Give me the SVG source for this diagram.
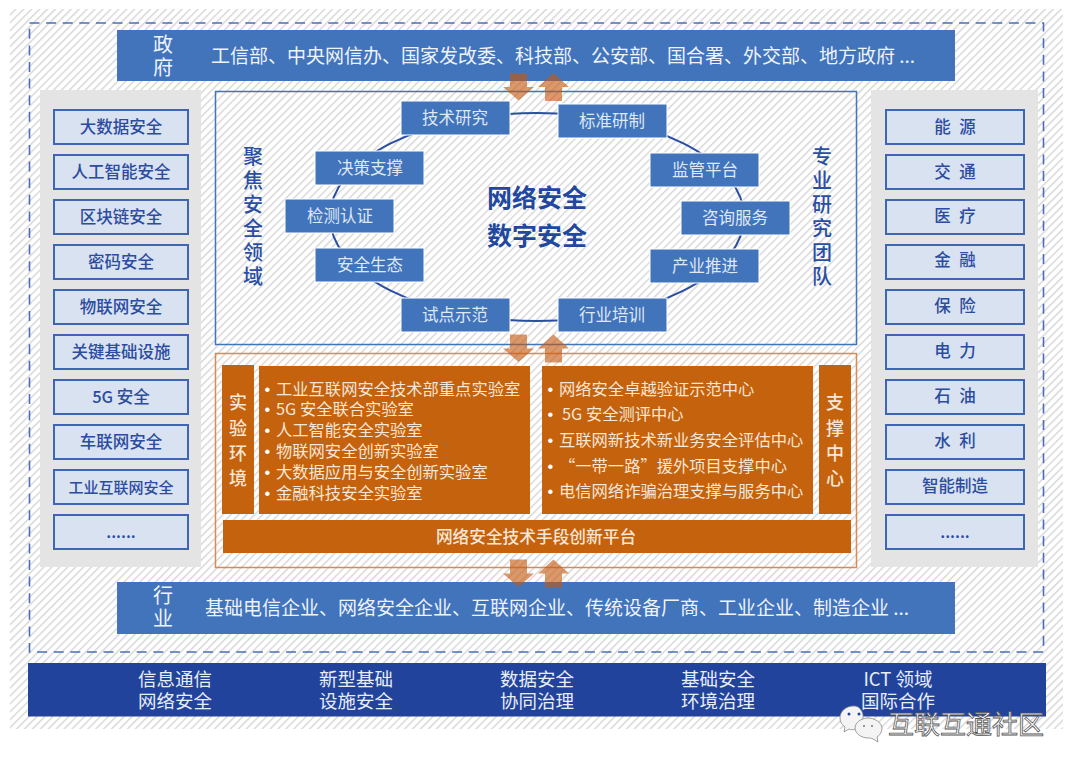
<svg xmlns="http://www.w3.org/2000/svg" width="1080" height="772" viewBox="0 0 1080 772">
<style>
text{font-family:"Noto Sans CJK SC","Noto Sans",sans-serif;text-anchor:middle}
.bar{fill:#4274bc}
.t{font-size:19px;fill:#eef3fa}
.tv{font-size:20px;fill:#eef3fa}
.node{fill:#4274bc;stroke:#fff;stroke-width:1}
.nt{font-size:16.500px;fill:#dfe8f4}
.side{fill:#d9e2f0;stroke:#3f66b4;stroke-width:2}
.st{font-size:16.500px;fill:#2b4c9f;font-weight:500}
.sp{word-spacing:5px}
.v{font-size:20px;fill:#2a4ea3;font-weight:500}
.o{fill:#c4620e}
.ot{font-size:16.300px;fill:#f8e6d6;text-anchor:start}
.b{font-family:"Liberation Sans",sans-serif;font-size:16.300px;fill:#fff;text-anchor:start}
.ov{font-size:18px;fill:#f8e6d6;font-weight:500}
.dk{font-size:18.500px;fill:#e8eef8}
.arr{fill:#c55a11;opacity:.62}
</style>
<defs>
<pattern id="h" width="5.600" height="5.600" patternUnits="userSpaceOnUse" patternTransform="rotate(45)"><rect width="5.600" height="5.600" fill="#fff"/><rect width="1.500" height="5.600" fill="#d8d8d8"/></pattern>
<path id="dn" d="M-8.500 0H8.500V14H15.500L0 27.500L-15.500 14H-8.500Z"/>
<path id="up" d="M-8.500 28H8.500V14H15.500L0 0L-15.500 14H-8.500Z"/>
</defs>
<rect x="10" y="9" width="1053" height="720" fill="url(#h)"/>
<rect x="29.500" y="23" width="1014" height="629" fill="none" stroke="#4a6fb8" stroke-width="1.600" stroke-dasharray="10 6.600"/>
<g id="gov"><rect class="bar" x="117" y="30" width="838" height="51"/>
<text class="tv" x="163"><tspan x="163" y="52">政</tspan><tspan x="163" y="75">府</tspan></text>
<text class="t" x="563" y="63">工信部、中央网信办、国家发改委、科技部、公安部、国合署、外交部、地方政府 ...</text></g>
<g id="industry"><rect class="bar" x="117" y="582" width="838" height="52"/>
<text class="tv"><tspan x="163" y="603">行</tspan><tspan x="163" y="626">业</tspan></text>
<text class="t" x="557" y="615">基础电信企业、网络安全企业、互联网企业、传统设备厂商、工业企业、制造企业 ...</text></g>
<g id="left-panel"><rect x="40" y="90" width="161" height="477" fill="#e4e4e4"/>
<rect class="side" x="54" y="110" width="134" height="34"/><text class="st" x="121" y="133">大数据安全</text>
<rect class="side" x="54" y="155" width="134" height="34"/><text class="st" x="121" y="178">人工智能安全</text>
<rect class="side" x="54" y="200" width="134" height="34"/><text class="st" x="121" y="223">区块链安全</text>
<rect class="side" x="54" y="245" width="134" height="34"/><text class="st" x="121" y="268">密码安全</text>
<rect class="side" x="54" y="290" width="134" height="34"/><text class="st" x="121" y="313">物联网安全</text>
<rect class="side" x="54" y="335" width="134" height="34"/><text class="st" x="121" y="358">关键基础设施</text>
<rect class="side" x="54" y="380" width="134" height="34"/><text class="st" x="121" y="403">5G 安全</text>
<rect class="side" x="54" y="425" width="134" height="34"/><text class="st" x="121" y="448">车联网安全</text>
<rect class="side" x="54" y="470" width="134" height="34"/><text class="st" x="121" y="493" style="font-size:15px">工业互联网安全</text>
<rect class="side" x="54" y="515" width="134" height="34"/><text class="st" x="121" y="538">......</text></g>
<g id="right-panel"><rect x="871" y="90" width="167" height="477" fill="#e4e4e4"/>
<rect class="side" x="886" y="110" width="138" height="34"/><text class="st sp" x="955" y="133">能 源</text>
<rect class="side" x="886" y="155" width="138" height="34"/><text class="st sp" x="955" y="178">交 通</text>
<rect class="side" x="886" y="200" width="138" height="34"/><text class="st sp" x="955" y="222">医 疗</text>
<rect class="side" x="886" y="245" width="138" height="34"/><text class="st sp" x="955" y="266">金 融</text>
<rect class="side" x="886" y="290" width="138" height="34"/><text class="st sp" x="955" y="312">保 险</text>
<rect class="side" x="886" y="335" width="138" height="34"/><text class="st sp" x="955" y="357">电 力</text>
<rect class="side" x="886" y="380" width="138" height="34"/><text class="st sp" x="955" y="402">石 油</text>
<rect class="side" x="886" y="425" width="138" height="34"/><text class="st sp" x="955" y="447">水 利</text>
<rect class="side" x="886" y="470" width="138" height="34"/><text class="st" x="955" y="492">智能制造</text>
<rect class="side" x="886" y="515" width="138" height="34"/><text class="st" x="955" y="538">......</text></g>
<g id="center"><rect x="215.500" y="91.500" width="641" height="253" fill="none" stroke="#4274bc" stroke-width="1.500"/>
<text class="v"><tspan x="253" y="164">聚</tspan><tspan x="253" y="188">焦</tspan><tspan x="253" y="212">安</tspan><tspan x="253" y="236">全</tspan><tspan x="253" y="260">领</tspan><tspan x="253" y="284">域</tspan></text>
<text class="v"><tspan x="822" y="164">专</tspan><tspan x="822" y="188">业</tspan><tspan x="822" y="212">研</tspan><tspan x="822" y="236">究</tspan><tspan x="822" y="260">团</tspan><tspan x="822" y="284">队</tspan></text>
<text font-size="25" font-weight="700" fill="#22479f"><tspan x="537" y="207">网络安全</tspan><tspan x="537" y="245">数字安全</tspan></text></g>
<g id="connectors"><ellipse cx="537" cy="217" rx="207" ry="104" fill="none" stroke="#2a4ea3" stroke-width="2"/></g>
<g id="n1"><rect class="node" x="401" y="101" width="109" height="34"/><text class="nt" x="455" y="124">技术研究</text></g>
<g id="n2"><rect class="node" x="558" y="104" width="109" height="34"/><text class="nt" x="612" y="127">标准研制</text></g>
<g id="n3"><rect class="node" x="315" y="151" width="109" height="34"/><text class="nt" x="370" y="174">决策支撑</text></g>
<g id="n4"><rect class="node" x="650" y="153" width="109" height="34"/><text class="nt" x="705" y="176">监管平台</text></g>
<g id="n5"><rect class="node" x="285" y="199" width="109" height="34"/><text class="nt" x="340" y="222">检测认证</text></g>
<g id="n6"><rect class="node" x="681" y="201" width="109" height="34"/><text class="nt" x="735" y="224">咨询服务</text></g>
<g id="n7"><rect class="node" x="315" y="248" width="109" height="34"/><text class="nt" x="370" y="271">安全生态</text></g>
<g id="n8"><rect class="node" x="650" y="249" width="109" height="34"/><text class="nt" x="705" y="272">产业推进</text></g>
<g id="n9"><rect class="node" x="401" y="298" width="109" height="34"/><text class="nt" x="455" y="321">试点示范</text></g>
<g id="n10"><rect class="node" x="558" y="298" width="109" height="34"/><text class="nt" x="612" y="321">行业培训</text></g>
<g id="lab"><rect x="215.500" y="353.500" width="641" height="214" fill="none" stroke="#d98a50" stroke-width="1.500"/>
<rect class="o" x="222" y="365" width="32" height="149"/>
<text class="ov"><tspan x="238" y="409">实</tspan><tspan x="238" y="435">验</tspan><tspan x="238" y="460">环</tspan><tspan x="238" y="485">境</tspan></text>
<rect class="o" x="259" y="366" width="271" height="148"/>
<text class="b" x="264.500" y="395">•</text><text class="ot" x="276" y="395">工业互联网安全技术部重点实验室</text>
<text class="b" x="264.500" y="415">•</text><text class="ot" x="276" y="415">5G 安全联合实验室</text>
<text class="b" x="264.500" y="436">•</text><text class="ot" x="276" y="436">人工智能安全实验室</text>
<text class="b" x="264.500" y="457">•</text><text class="ot" x="276" y="457">物联网安全创新实验室</text>
<text class="b" x="264.500" y="478">•</text><text class="ot" x="276" y="478">大数据应用与安全创新实验室</text>
<text class="b" x="264.500" y="499">•</text><text class="ot" x="276" y="499">金融科技安全实验室</text></g>
<g id="support"><rect class="o" x="542" y="366" width="271" height="148"/>
<text class="b" x="547.500" y="395">•</text><text class="ot" x="559" y="395">网络安全卓越验证示范中心</text>
<text class="b" x="547.500" y="420">•</text><text class="ot" x="562" y="420">5G 安全测评中心</text>
<text class="b" x="547.500" y="446">•</text><text class="ot" x="559" y="446">互联网新技术新业务安全评估中心</text>
<text class="b" x="547.500" y="472">•</text><text class="ot" x="559" y="472">“一带一路”援外项目支撑中心</text>
<text class="b" x="547.500" y="497">•</text><text class="ot" x="559" y="497">电信网络诈骗治理支撑与服务中心</text>
<rect class="o" x="819" y="365" width="32" height="149"/>
<text class="ov"><tspan x="835" y="409">支</tspan><tspan x="835" y="435">撑</tspan><tspan x="835" y="460">中</tspan><tspan x="835" y="485">心</tspan></text></g>
<g id="platform"><rect class="o" x="223" y="520" width="628" height="33"/><text x="536" y="543" font-size="16.700" font-weight="500" fill="#f8e6d6">网络安全技术手段创新平台</text></g>
<g id="arrows" class="arr">
<use href="#dn" x="518.500" y="73"/><use href="#up" x="553.500" y="73"/>
<use href="#dn" x="518.500" y="334.500"/><use href="#up" x="553.500" y="334.500"/>
<use href="#dn" x="518.500" y="559.500"/><use href="#up" x="553.500" y="559.500"/></g>
<g id="foundation"><rect x="28" y="663" width="1018" height="53.500" fill="#21439c"/>
<text class="dk"><tspan x="175" y="686">信息通信</tspan><tspan x="175" y="708">网络安全</tspan></text>
<text class="dk"><tspan x="356" y="686">新型基础</tspan><tspan x="356" y="708">设施安全</tspan></text>
<text class="dk"><tspan x="537" y="686">数据安全</tspan><tspan x="537" y="708">协同治理</tspan></text>
<text class="dk"><tspan x="718" y="686">基础安全</tspan><tspan x="718" y="708">环境治理</tspan></text>
<text class="dk"><tspan x="898" y="686">ICT 领域</tspan><tspan x="898" y="708">国际合作</tspan></text></g>
<g id="watermark">
<path d="M854 706c-8 0-14 5-14 12 0 4 2 7 5 9l-1 5 5-3c2 1 4 1 6 0 4-1 9-9 8-14-1-5-4-9-9-9z" fill="#f4f4f4" stroke="#888" stroke-width=".8"/>
<path d="M868 718c-7 0-13 5-13 10s6 10 13 10c2 0 3 0 5 1l5 3-1-5c3-2 5-5 5-9 0-5-7-10-14-10z" fill="#f4f4f4" stroke="#888" stroke-width=".8"/>
<circle cx="849" cy="714" r="1.500" fill="#21439c"/><circle cx="859" cy="714" r="1.500" fill="#21439c"/><circle cx="864" cy="726" r="1" fill="#777"/><circle cx="872" cy="726" r="1" fill="#777"/>
<text x="966" y="734" font-size="26" fill="#fff" stroke="#555" stroke-width=".8">互联互通社区</text></g>
</svg>
